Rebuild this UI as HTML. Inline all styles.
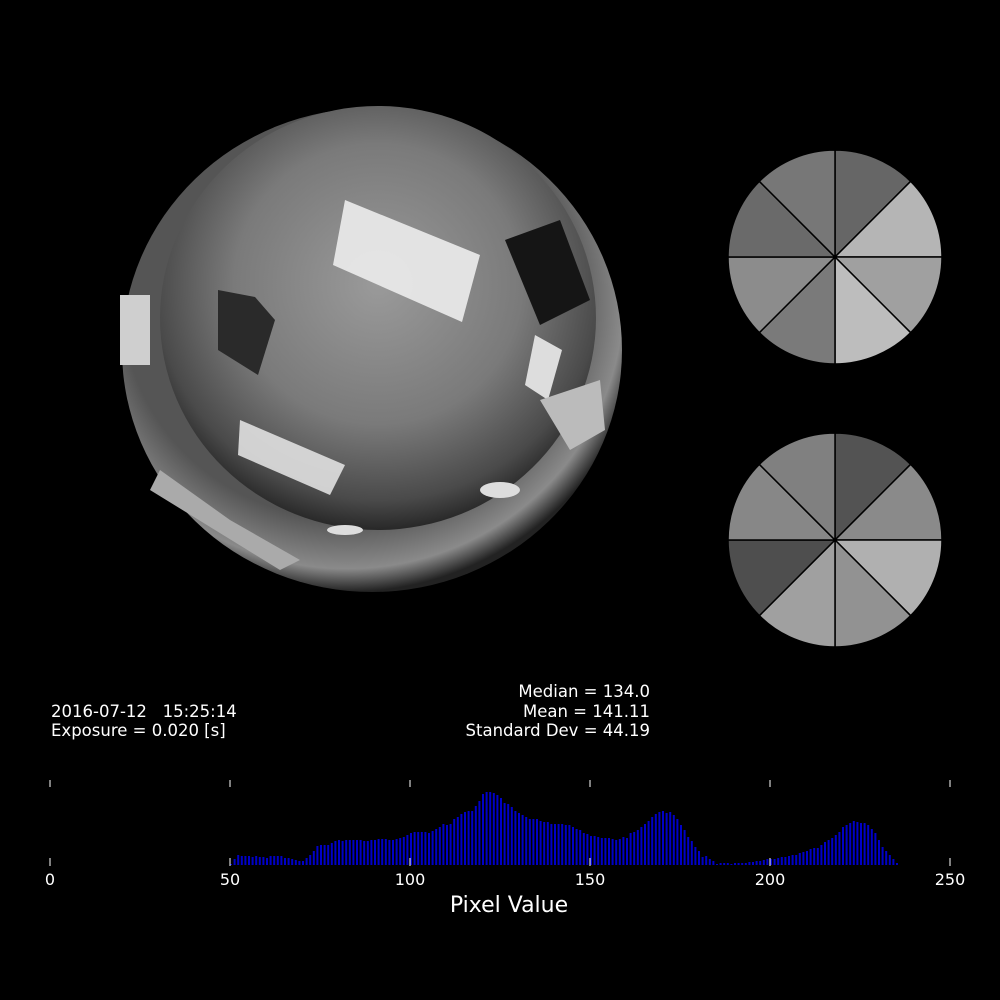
<!DOCTYPE html>
<html><head><meta charset="utf-8"><style>
html,body{margin:0;padding:0;background:#000;}
svg{display:block;}
text{font-family:"DejaVu Sans","Liberation Sans",sans-serif;fill:#fff;white-space:pre;}
</style></head><body>
<svg id="root" width="1000" height="1000" viewBox="0 0 1000 1000">
<defs>
<radialGradient id="dome" cx="0.5" cy="0.42" r="0.6">
<stop offset="0" stop-color="#9a9a9a"/><stop offset="0.55" stop-color="#7a7a7a"/><stop offset="0.85" stop-color="#4a4a4a"/><stop offset="1" stop-color="#1e1e1e"/>
</radialGradient>
<radialGradient id="rim" cx="0.45" cy="0.4" r="0.6">
<stop offset="0.75" stop-color="#555"/><stop offset="0.92" stop-color="#8a8a8a"/><stop offset="1" stop-color="#222"/>
</radialGradient>
</defs>
<rect width="1000" height="1000" fill="#000"/>
<g>
<ellipse cx="372" cy="350" rx="250" ry="242" fill="url(#rim)"/>
<ellipse cx="378" cy="318" rx="218" ry="212" fill="url(#dome)"/>
<polygon points="345,200 480,255 462,322 333,265" fill="#e8e8e8" opacity="0.95"/>
<polygon points="240,420 345,465 330,495 238,455" fill="#e0e0e0" opacity="0.9"/>
<polygon points="535,335 562,350 548,400 525,385" fill="#ddd"/>
<polygon points="218,290 255,297 275,320 258,375 218,350" fill="#2a2a2a"/>
<polygon points="505,240 560,220 590,300 540,325" fill="#151515"/>
<rect x="120" y="295" width="30" height="70" fill="#cfcfcf"/>
<polygon points="160,470 230,520 300,560 280,570 150,490" fill="#aaa"/>
<polygon points="540,400 600,380 605,430 570,450" fill="#bbb"/>
<ellipse cx="500" cy="490" rx="20" ry="8" fill="#ddd"/>
<ellipse cx="345" cy="530" rx="18" ry="5" fill="#ddd"/>
</g>
<g id="pies"></g>
<g>
<text x="51" y="717" font-size="16.5">2016-07-12   15:25:14</text>
<text x="51" y="736" font-size="16.5">Exposure = 0.020 [s]</text>
<text x="650" y="697" font-size="16.5" text-anchor="end">Median = 134.0</text>
<text x="650" y="717" font-size="16.5" text-anchor="end">Mean = 141.11</text>
<text x="650" y="736" font-size="16.5" text-anchor="end">Standard Dev = 44.19</text>
</g>
<g id="hist"></g>
<text x="509" y="912" font-size="22" text-anchor="middle">Pixel Value</text>
</svg>
<script>
const pieTop=["#666666","#b5b5b5","#a0a0a0","#bdbdbd","#7a7a7a","#8c8c8c","#6a6a6a","#777777"];
const pieBottom=["#535353","#8a8a8a","#b0b0b0","#929292","#a0a0a0","#4e4e4e","#878787","#808080"];
const binStart=50;
const counts=[1,6,10,9,9,9,8,9,8,8,7,9,9,9,9,7,7,6,5,4,
4,7,10,14,19,20,20,20,22,24,25,24,25,25,25,25,25,24,24,25,
25,26,26,26,25,25,26,27,28,30,32,33,33,33,33,32,34,36,38,41,
40,41,46,48,51,53,54,54,59,64,71,73,73,72,70,67,62,61,58,54,
52,50,48,46,46,46,44,43,43,41,41,41,41,40,40,38,36,35,32,31,
29,29,28,27,27,27,26,25,26,28,27,32,33,35,38,41,44,48,51,53,
54,52,53,50,46,40,35,28,24,18,14,8,9,6,4,1,2,2,2,1,
2,2,2,2,3,3,4,4,5,6,6,6,7,8,8,9,10,10,12,13,
14,16,17,17,20,23,25,27,30,33,38,40,42,44,43,42,42,40,36,32,
25,18,14,10,6,2];
const ticks=[0,50,100,150,200,250];
const NS="http://www.w3.org/2000/svg";
function mk(t,a){const e=document.createElementNS(NS,t);for(const k in a)e.setAttribute(k,a[k]);return e;}
function drawPie(g,cx,cy,r,cols,name){
  const n=cols.length;
  cols.forEach((c,i)=>{
    const a0=-Math.PI/2+i*2*Math.PI/n,a1=a0+2*Math.PI/n;
    const p=mk("path",{d:`M${cx},${cy}L${cx+r*Math.cos(a0)},${cy+r*Math.sin(a0)}A${r},${r} 0 0 1 ${cx+r*Math.cos(a1)},${cy+r*Math.sin(a1)}Z`,fill:c,stroke:"#000","stroke-width":1.5});
    
    
    g.appendChild(p);
  });
}
const pg=document.getElementById("pies");
drawPie(pg,835,257,107,pieTop,"top-pie");
drawPie(pg,835,540,107,pieBottom,"bottom-pie");
const xs=v=>50+3.6*v;
const base=865, yscale=1;
const hg=document.getElementById("hist");
counts.forEach((c,i)=>{
  const v=binStart+i;
  const r=mk("rect",{x:xs(v),y:base-c*yscale,width:2,height:c*yscale,fill:"#0000c8"});
  
  
  hg.appendChild(r);
});
ticks.forEach(t=>{
  const x=xs(t);
  const a=mk("line",{x1:x,x2:x,y1:780,y2:787,stroke:"#fff","stroke-width":1});
  
  
  hg.appendChild(a);
  const b=mk("line",{x1:x,x2:x,y1:858,y2:866,stroke:"#fff","stroke-width":1});
  
  
  hg.appendChild(b);
  const l=mk("text",{x:x,y:885,"font-size":16,"text-anchor":"middle"});
  l.textContent=t;
  
  
  hg.appendChild(l);
});
</script>
</body></html>
